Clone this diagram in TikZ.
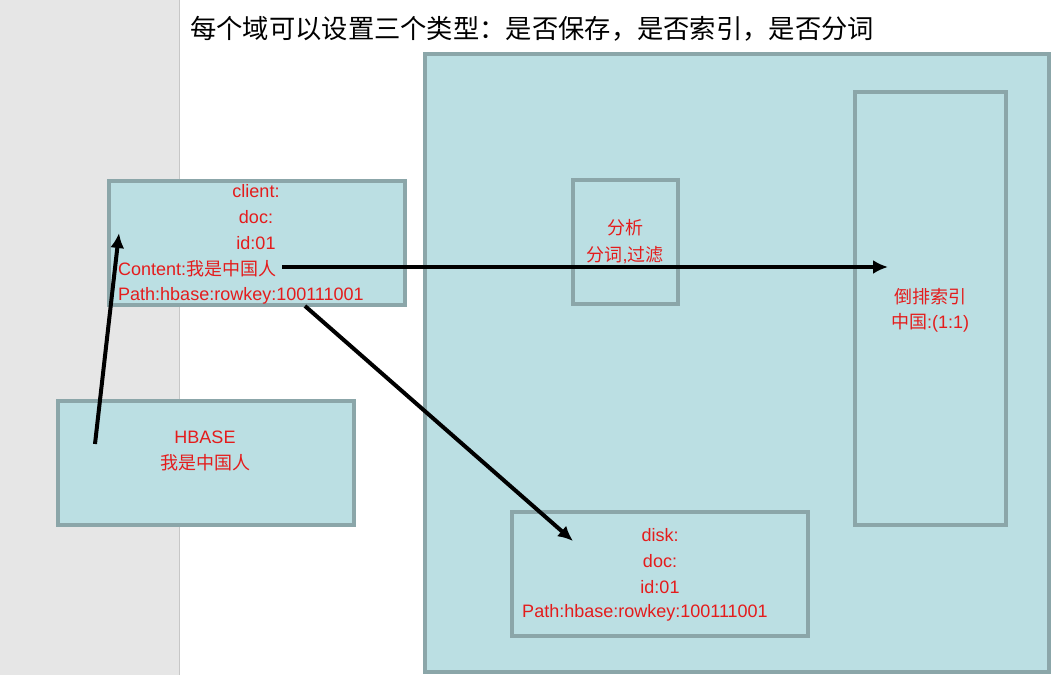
\documentclass[tikz,border=0pt]{standalone}
\usepackage{fontspec}
\setmainfont{Liberation Sans}
\newfontfamily\cjk{Noto Sans CJK SC}
\usetikzlibrary{arrows.meta}
\definecolor{boxfill}{HTML}{BBDFE3}
\definecolor{boxline}{HTML}{8BA6A9}
\definecolor{txtred}{HTML}{E41C1C}
\definecolor{band}{HTML}{E6E6E6}
\tikzset{
  box/.style={draw=boxline, fill=boxfill, line width=3.2pt, anchor=north west, inner sep=0pt, outer sep=0pt},
  lbl/.style={text=txtred, font=\fontsize{18}{21}\selectfont, inner sep=0pt},
  conn/.style={line width=4pt, -{Latex[length=15pt,width=14pt]}},
}
\begin{document}
\begin{tikzpicture}[x=1pt,y=-1pt]
\useasboundingbox (0,0) rectangle (1052,675);
\fill[white] (0,0) rectangle (1052,675);
\fill[band] (0,0) rectangle (179,675);
\draw[line width=1pt, color=black!22] (179.5,0) -- (179.5,675);
% title
\node[anchor=west, inner sep=0pt, font=\cjk\fontsize{26.3}{30}\selectfont] (title) at (190,29) {每个域可以设置三个类型：是否保存，是否索引，是否分词};
% big container
\node[box, minimum width=624, minimum height=618] (big) at (425,54) {};
% inner boxes
\node[box, minimum width=105, minimum height=124] (ana) at (573,180) {};
\node[box, minimum width=151, minimum height=433] (inv) at (855,92) {};
\node[box, minimum width=296, minimum height=124] (disk) at (512,512) {};
\node[box, minimum width=296, minimum height=124] (client) at (109,181) {};
\node[box, minimum width=296, minimum height=124] (hbase) at (58,401) {};
% client texts
\node[lbl] (c1) at (256,191) {client:};
\node[lbl] (c2) at (256,217) {doc:};
\node[lbl] (c3) at (256,243) {id:01};
\node[lbl, anchor=west] (c4) at (118,269) {Content:{\cjk 我是中国人}};
\node[lbl, anchor=west] (c5) at (118,296) {Path:hbase:rowkey:100111001};
% hbase texts
\node[lbl] (h1) at (205,437) {HBASE};
\node[lbl] (h2) at (205,463) {\cjk 我是中国人};
% analysis
\node[lbl] (a1) at (625,228) {\cjk 分析};
\node[lbl] (a2) at (625,255) {{\cjk 分词},{\cjk 过滤}};
% inverted index
\node[lbl] (i1) at (930,297) {\cjk 倒排索引};
\node[lbl] (i2) at (930,323) {{\cjk 中国}:(1:1)};
% disk
\node[lbl] (d1) at (660,535) {disk:};
\node[lbl] (d2) at (660,561) {doc:};
\node[lbl] (d3) at (660,587) {id:01};
\node[lbl] (d4) at (645,613) {Path:hbase:rowkey:100111001};
% connectors
\coordinate (p1) at (95,444);
\coordinate (p2) at (119,233);
\coordinate (p3) at (282,267);
\coordinate (p4) at (888,267);
\coordinate (p5) at (305,306);
\coordinate (p6) at (573,541);
\draw[conn] (p1) -- (p2);
\draw[conn] (p3) -- (p4);
\draw[conn] (p5) -- (p6);
\end{tikzpicture}
\end{document}
